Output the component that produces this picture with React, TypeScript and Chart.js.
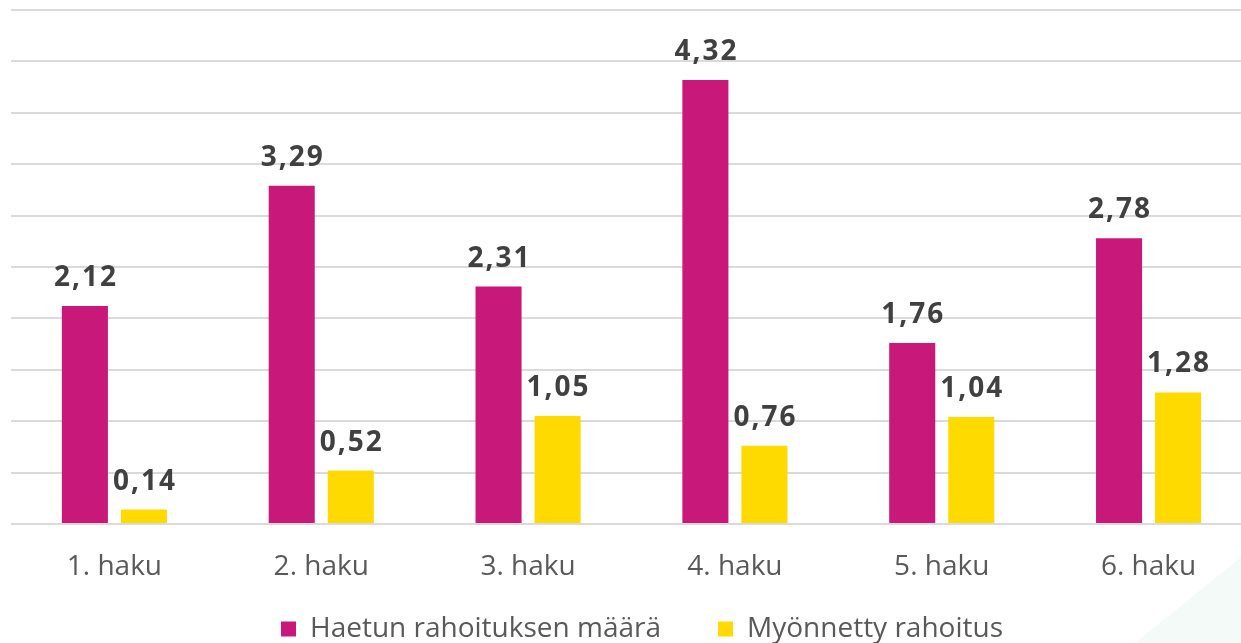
import React, { useEffect, useRef } from "react";
import { Chart, registerables } from "chart.js";

Chart.register(...registerables);

const categories = ["1. haku", "2. haku", "3. haku", "4. haku", "5. haku", "6. haku"];
const haettu = [2.12, 3.29, 2.31, 4.32, 1.76, 2.78];
const myonnetty = [0.14, 0.52, 1.05, 0.76, 1.04, 1.28];
const seriesNames = ["Haetun rahoituksen määrä", "Myönnetty rahoitus"];
const seriesColors = ["#C8197B", "#FFDA00"];

const W = 1262;
const H = 653;

const decoPlugin = {
  id: "deco",
  beforeDraw(chart: any) {
    const ctx = chart.ctx;
    ctx.save();
    ctx.fillStyle = "#f4faf8";
    ctx.beginPath();
    ctx.moveTo(1135, 643);
    ctx.lineTo(1262, 540);
    ctx.lineTo(1262, 653);
    ctx.lineTo(1135, 653);
    ctx.closePath();
    ctx.fill();
    ctx.restore();
  },
};

const legendShiftPlugin = {
  id: "legendShift",
  afterLayout(chart: any) {
    const lg = chart.legend;
    if (lg) {
      lg.left += 16;
      lg.right += 16;
    }
  },
};

const labelPlugin = {
  id: "valueLabels",
  afterDatasetsDraw(chart: any) {
    const ctx = chart.ctx;
    ctx.save();
    ctx.font = "bold 28px 'Open Sans'";
    (ctx as any).letterSpacing = "2px";
    ctx.fillStyle = "#404040";
    ctx.textAlign = "center";
    ctx.textBaseline = "alphabetic";
    chart.data.datasets.forEach((ds: any, i: number) => {
      const meta = chart.getDatasetMeta(i);
      meta.data.forEach((el: any, j: number) => {
        const v = ds.data[j] as number;
        ctx.fillText(v.toFixed(2).replace(".", ","), el.x + 1, el.y - 20);
      });
    });
    ctx.restore();
  },
};

export default function App() {
  const ref = useRef<HTMLCanvasElement>(null);
  useEffect(() => {
    if (!ref.current) return;
    const chart = new Chart(ref.current, {
      type: "bar",
      data: {
        labels: categories,
        datasets: [
          {
            label: seriesNames[0],
            data: haettu,
            backgroundColor: seriesColors[0],
            categoryPercentage: 0.571,
            barPercentage: 0.78,
          },
          {
            label: seriesNames[1],
            data: myonnetty,
            backgroundColor: seriesColors[1],
            categoryPercentage: 0.571,
            barPercentage: 0.78,
          },
        ],
      },
      options: {
        animation: false,
        responsive: false,
        devicePixelRatio: 1,
        layout: { padding: { left: 0, right: 10, top: 10, bottom: 0 } },
        plugins: {
          tooltip: { enabled: false },
          legend: {
            position: "bottom",
            labels: {
              boxWidth: 15,
              boxHeight: 15,
              padding: 29,
              color: "#595959",
              font: { family: "'Open Sans'", size: 28 },
              generateLabels: (chart: any) => {
                const items = Chart.defaults.plugins.legend.labels.generateLabels(chart);
                return items.map((it: any, i: number) => ({
                  ...it,
                  text: i === 0 ? it.text + "\u2003" : it.text,
                }));
              },
            },
          },
        },
        scales: {
          x: {
            grid: { display: false, drawTicks: false },
            border: { display: false },
            ticks: {
              color: "#595959",
              font: { family: "'Open Sans'", size: 28 },
              padding: 26,
            },
            afterFit: (s: any) => {
              s.height = 62;
            },
          },
          y: {
            min: 0,
            max: 5,
            ticks: { display: false, stepSize: 0.5 },
            grid: { color: "#dadada", lineWidth: 2, drawTicks: false },
            border: { display: false },
            afterFit: (s: any) => {
              s.width = 11;
            },
          },
        },
      },
      plugins: [decoPlugin, legendShiftPlugin, labelPlugin],
    });
    return () => chart.destroy();
  }, []);
  return (
    <div
      style={{
        position: "fixed",
        left: 0,
        top: 0,
        width: 1241,
        height: 643,
        overflow: "hidden",
        background: "#fff",
      }}
    >
      <canvas ref={ref} width={W} height={H} style={{ display: "block" }} />
    </div>
  );
}
